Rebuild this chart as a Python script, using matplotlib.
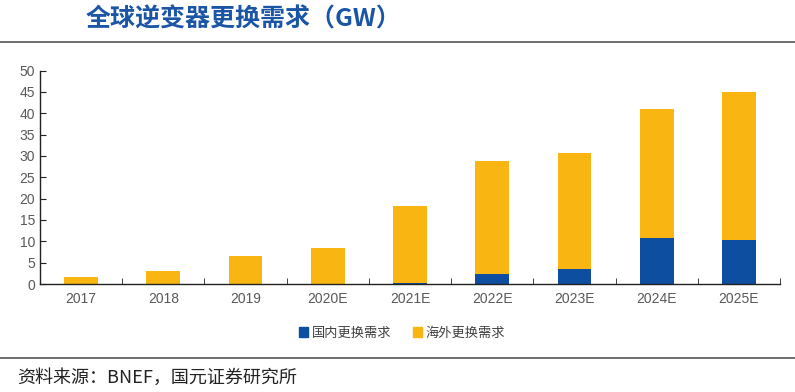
import numpy as np
import matplotlib.pyplot as plt
from matplotlib.patches import Patch

plt.rcParams['font.family'] = ['Noto Sans CJK SC', 'DejaVu Sans']

# data
years = ['2017', '2018', '2019', '2020E', '2021E', '2022E', '2023E', '2024E', '2025E']
domestic = [0, 0, 0, 0, 0.3, 2.3, 3.5, 10.8, 10.3]
total = [1.6, 3.0, 6.6, 8.4, 18.3, 28.9, 30.7, 41.0, 45.0]
overseas = [t - d for t, d in zip(total, domestic)]

blue = '#0D4EA0'
yellow = '#F9B612'

fig = plt.figure(figsize=(7.95, 3.92), dpi=100, facecolor='w')
ax = fig.add_axes([40/795, 108/392, 740/795, 213.5/392])

x = np.arange(len(years))
ax.bar(x, domestic, width=0.41, color=blue, label='国内更换需求')
ax.bar(x, overseas, width=0.41, bottom=domestic, color=yellow, label='海外更换需求')

ax.set_xlim(-0.5, len(years) - 0.5)
ax.set_ylim(0, 50)
ax.set_yticks(np.arange(0, 51, 5))
ax.set_xticks(x)
ax.set_xticklabels(years)
ax.set_xticks(np.arange(-0.5, len(years), 1), minor=True)
ax.tick_params(axis='x', which='major', length=0, pad=6, labelsize=10, labelcolor='#595959')
ax.tick_params(axis='x', which='minor', direction='in', length=4, color='#222222')
ax.tick_params(axis='y', direction='in', length=4, labelsize=10, labelcolor='#595959', color='#222222')
for lbl in ax.get_xticklabels() + ax.get_yticklabels():
    lbl.set_family(['Liberation Sans', 'DejaVu Sans'])

for s in ('top', 'right'):
    ax.spines[s].set_visible(False)
for s in ('left', 'bottom'):
    ax.spines[s].set_color('#222222')
    ax.spines[s].set_linewidth(1.0)

handles = [Patch(color=blue), Patch(color=yellow)]
leg = fig.legend(handles, ['国内更换需求', '海外更换需求'], loc='center', bbox_to_anchor=(402/795, 1 - 333/392),
                 ncol=2, frameon=False, handlelength=0.7, handleheight=0.7, handletextpad=0.3,
                 columnspacing=1.6, fontsize=9.5, labelcolor='#404040')

# title, rules and source
fig.text(86/795, 1 - 19/392, '全球逆变器更换需求（GW）', fontsize=18, fontweight='bold',
         color='#1B55A5', va='center', ha='left')
fig.add_artist(plt.Line2D([0, 1], [1 - 42/392, 1 - 42/392], color='#555555', lw=1.2))
fig.add_artist(plt.Line2D([0, 1], [1 - 358/392, 1 - 358/392], color='#555555', lw=1.2))
fig.text(17/795, 1 - 378/392, '资料来源：BNEF，国元证券研究所', fontsize=13, color='#222222',
         va='center', ha='left')

fig.savefig('out.png', dpi=100, facecolor='w')
